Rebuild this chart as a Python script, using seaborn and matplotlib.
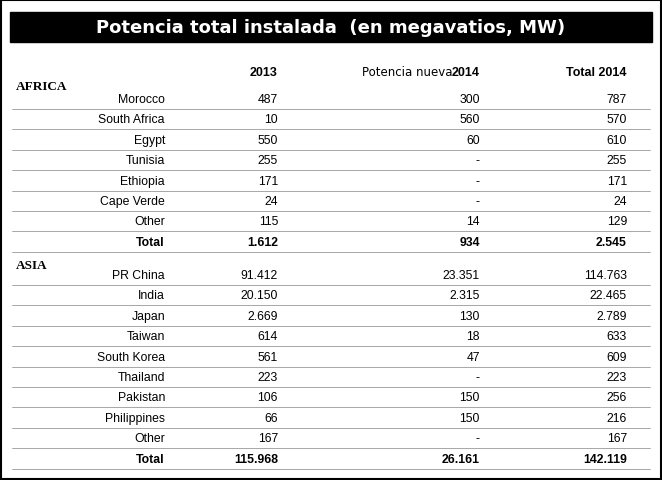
import matplotlib.pyplot as plt
import seaborn as sns

sns.set_theme(style="white")

title = "Potencia total instalada  (en megavatios, MW)"
col_headers = ["2013", "Potencia nueva", "2014", "Total 2014"]

africa_names = ["Morocco", "South Africa", "Egypt", "Tunisia", "Ethiopia", "Cape Verde", "Other", "Total"]
africa_2013 = ["487", "10", "550", "255", "171", "24", "115", "1.612"]
africa_new = ["300", "560", "60", "-", "-", "-", "14", "934"]
africa_total = ["787", "570", "610", "255", "171", "24", "129", "2.545"]

asia_names = ["PR China", "India", "Japan", "Taiwan", "South Korea", "Thailand", "Pakistan",
              "Philippines", "Other", "Total"]
asia_2013 = ["91.412", "20.150", "2.669", "614", "561", "223", "106", "66", "167", "115.968"]
asia_new = ["23.351", "2.315", "130", "18", "47", "-", "150", "150", "-", "26.161"]
asia_total = ["114.763", "22.465", "2.789", "633", "609", "223", "256", "216", "167", "142.119"]

fig = plt.figure(figsize=(6.62, 4.81), dpi=100)
ax = fig.add_axes([0, 0, 1, 1])
ax.set_xlim(0, 662)
ax.set_ylim(481, 0)
ax.axis("off")

# outer frame + title bar
ax.add_patch(plt.Rectangle((1, 1), 660, 479, fill=False, ec="black", lw=1.5))
ax.add_patch(plt.Rectangle((10, 13), 642, 30, color="black"))
ax.text(331, 28, title, color="white", ha="center", va="center",
        fontsize=13, fontweight="bold", family="DejaVu Sans")

font = "Liberation Sans"
xs = [165, 278, 480, 627]
kw = dict(ha="right", va="center", color="black")
ax.text(xs[1], 73, col_headers[0], fontsize=9, fontweight="bold", family=font, **kw)
ax.text(xs[2] - 28, 73, col_headers[1], fontsize=8.5, family="DejaVu Sans", **kw)
ax.text(xs[2], 73, col_headers[2], fontsize=9, fontweight="bold", family=font, **kw)
ax.text(xs[3], 73, col_headers[3], fontsize=9, fontweight="bold", family=font, **kw)


def block(label, y_label, y0, names, c1, c2, c3):
    ax.text(16, y_label, label, ha="left", va="center", fontsize=9.5, fontweight="bold",
            family="Liberation Serif", color="black")
    step = 20.4
    for i, row in enumerate(zip(names, c1, c2, c3)):
        y = y0 + i * step
        bold = row[0] == "Total"
        for x, val in zip(xs, row):
            ax.text(x, y, val, fontsize=8.8, family=font,
                    fontweight="bold" if bold else "normal", **kw)
        ax.plot([12, 650], [y + 10, y + 10], color="#999999", lw=0.6)


block("AFRICA", 87, 100, africa_names, africa_2013, africa_new, africa_total)
block("ASIA", 266, 276, asia_names, asia_2013, asia_new, asia_total)

fig.savefig("out.png", dpi=100)
